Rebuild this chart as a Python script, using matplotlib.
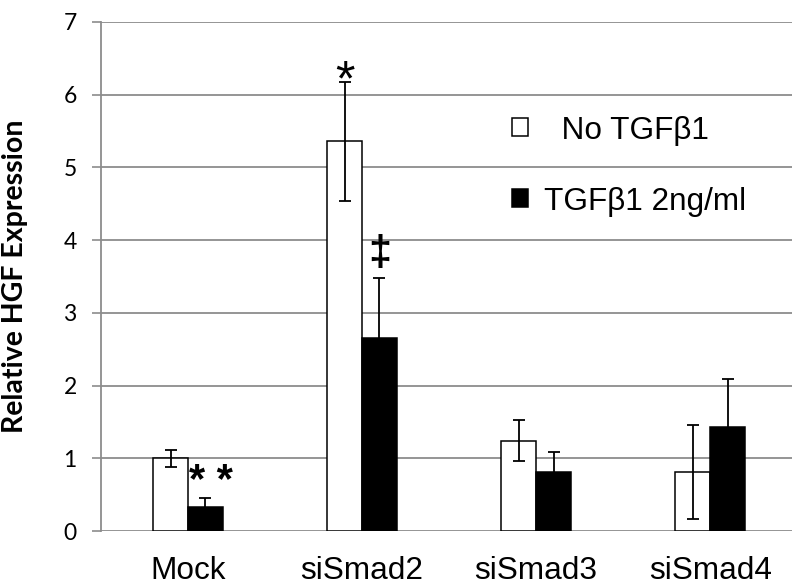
import numpy as np
import matplotlib
matplotlib.use("Agg")
import matplotlib.pyplot as plt
from matplotlib.patches import Patch

# Donnees
categories = ['Mock', 'siSmad2', 'siSmad3', 'siSmad4']
no_tgf = [1.00, 5.36, 1.24, 0.81]
no_tgf_err = [0.12, 0.82, 0.28, 0.65]
tgf = [0.33, 2.65, 0.81, 1.43]
tgf_err = [0.13, 0.83, 0.28, 0.66]
# marques de significativite : (categorie, serie, texte)
marks = [(0, 1, '* *'), (1, 0, '*'), (1, 1, '\u2021')]

grid_col = '#8c8c8c'
sans = 'Liberation Sans'
tick_font = 'Lato'

fig = plt.figure(figsize=(7.92, 5.85), dpi=100)
ax = fig.add_axes([101 / 792, 1 - 531 / 585, 691 / 792, (531 - 22) / 585])

x = np.arange(len(categories))
w = 0.2
err_kw = dict(ecolor='black', elinewidth=1.3, capsize=4.3, capthick=1.3)
b1 = ax.bar(x - w / 2, no_tgf, w, yerr=no_tgf_err, color='white',
            edgecolor='black', linewidth=1.1, error_kw=err_kw, zorder=3)
b2 = ax.bar(x + w / 2, tgf, w, yerr=tgf_err, color='black',
            edgecolor='black', linewidth=1.1, error_kw=err_kw, zorder=3)

# Annotations
series = [(no_tgf, no_tgf_err), (tgf, tgf_err)]
for cat, s, txt in marks:
    vals, errs = series[s]
    xpos = x[cat] + (s - 0.5) * w
    top = vals[cat] + errs[cat]
    if txt == '* *':
        ax.annotate(txt, (xpos, top), xytext=(4, 11), textcoords='offset points',
                    ha='center', va='center', fontsize=30, family=sans,
                    fontweight='bold')
    elif txt == '*':
        ax.annotate(txt, (xpos, top), xytext=(0, -0.5), textcoords='offset points',
                    ha='center', va='center', fontsize=36, family=sans)
    else:
        ax.annotate(txt, (xpos, top), xytext=(0, 17), textcoords='offset points',
                    ha='center', va='center', fontsize=30, family=sans,
                    fontweight='bold')

ax.set_xlim(-0.5, 3.47)
ax.set_ylim(0, 7)
ax.set_yticks(range(0, 8))
ax.set_xticks(x)
ax.set_xticklabels(categories, family=sans, fontsize=22.7)
ax.set_yticklabels([str(v) for v in range(0, 8)], family=tick_font, fontsize=16.5)
ax.tick_params(axis='x', length=0, pad=18)
ax.tick_params(axis='y', length=6.5, width=1.2, color=grid_col, pad=11)

ax.yaxis.grid(True, color=grid_col, linewidth=1.3, zorder=0)
ax.set_axisbelow(True)
for side in ['top', 'right', 'bottom']:
    ax.spines[side].set_visible(False)
ax.spines['left'].set_color(grid_col)
ax.spines['left'].set_linewidth(1.3)

ax.set_ylabel('Relative HGF Expression', family=tick_font, fontweight='bold',
              fontsize=20.5)
ax.yaxis.set_label_coords(-0.105, 0.5)

handles = [Patch(facecolor='white', edgecolor='black', linewidth=1.1),
           Patch(facecolor='black', edgecolor='black', linewidth=1.1)]
ax.legend(handles, ['  No TGF\u03b21', 'TGF\u03b21 2ng/ml'], frameon=False,
          loc='center left', bbox_to_anchor=(0.572, 0.717), borderpad=0,
          handlelength=0.5, handleheight=0.5, handletextpad=0.5,
          labelspacing=1.3, prop={'family': sans, 'size': 22.7})

fig.savefig('out.png', dpi=100)
